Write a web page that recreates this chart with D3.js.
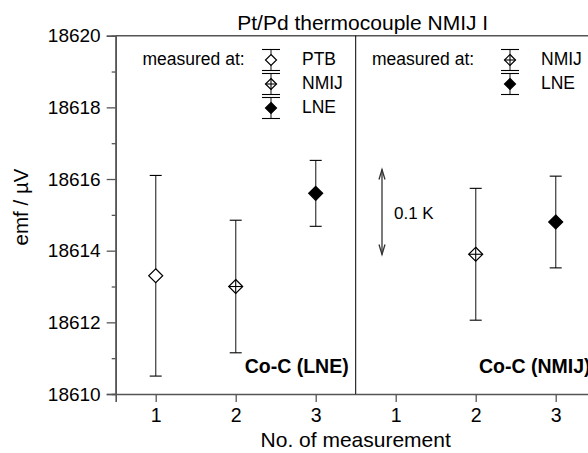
<!DOCTYPE html>
<html>
<head>
<meta charset="utf-8">
<script src="https://cdn.jsdelivr.net/npm/d3@7"></script>
<style>
	body { margin: 0; background: #fff; }
	text { font-family: "Liberation Sans", Arial, Helvetica, sans-serif; fill: #000; }
</style>
</head>
<body>
<div id="chart-area"></div>
<script>
// data - measurement slot on the x axis (second panel uses slots 4..6), emf and its uncertainty
let slots = [1, 2, 3, 5, 6];
let emf = [18613.3, 18613.0, 18615.6, 18613.9, 18614.8];
let uncert = [2.8, 1.85, 0.92, 1.84, 1.28];
let lab = ["PTB", "NMIJ", "LNE", "NMIJ", "LNE"];

let xTicks = [1, 2, 3, 4, 5, 6];
let xTickLabels = ["1", "2", "3", "1", "2", "3"];
let yTicks = [18610, 18612, 18614, 18616, 18618, 18620];
let yMinor = [18611, 18613, 18615, 18617, 18619];

let legend1 = ["PTB", "NMIJ", "LNE"];
let legend2 = ["NMIJ", "LNE"];
let panelNames = ["Co-C (LNE)", "Co-C (NMIJ)"];

// 0.1 K marker, in µV
let arrowMid = 18615.08;
let arrowLen = 2.37;

let margin = {top: 35.7, right: 0, bottom: 59, left: 115.7};
let width = 480;
let height = 394 - margin.top;

let svg = d3.select("#chart-area").append("svg")
		.attr("width", 588)
		.attr("height", 453)
	.append("g")
		.attr("transform", "translate(" + margin.left + "," + margin.top + ")");

let xScale = d3.scaleLinear().domain([0.5, 6.5]).range([0, width]);
let yScale = d3.scaleLinear().domain([18610, 18620]).range([height, 0]);

// axes
let xAxis = d3.axisBottom(xScale).tickValues(xTicks)
	.tickFormat((d, i) => xTickLabels[i]).tickSize(8).tickPadding(6);
let yAxis = d3.axisLeft(yScale).tickValues(yTicks)
	.tickFormat(d3.format("d")).tickSize(9).tickPadding(6);
let yAxisMinor = d3.axisLeft(yScale).tickValues(yMinor)
	.tickFormat("").tickSize(4);

let gx = svg.append("g")
	.attr("transform", "translate(0," + height + ")")
	.call(xAxis);
let gy = svg.append("g").call(yAxis);
let gym = svg.append("g").call(yAxisMinor);

[gx, gy, gym].forEach(g => {
	g.select(".domain").attr("stroke", "#555").attr("stroke-width", 1.6);
	g.selectAll(".tick line").attr("stroke", "#555").attr("stroke-width", 1.3);
	g.selectAll("text").attr("fill", "#000");
});
gx.selectAll("text").style("font-size", "19.5px");
gy.selectAll("text").style("font-size", "19px");

// top frame line
svg.append("line")
	.attr("x1", 0).attr("x2", width)
	.attr("y1", 0).attr("y2", 0)
	.attr("stroke", "#555").attr("stroke-width", 1.6);

// panel divider
svg.append("line")
	.attr("x1", xScale(3.5)).attr("x2", xScale(3.5))
	.attr("y1", 0).attr("y2", height)
	.attr("stroke", "#000").attr("stroke-width", 1);

// axis titles
svg.append("text")
	.attr("x", xScale(3.5) + 7).attr("y", -6)
	.attr("text-anchor", "middle")
	.style("font-size", "21px")
	.text("Pt/Pd thermocouple NMIJ I");

svg.append("text")
	.attr("x", xScale(3.5)).attr("y", 447 - margin.top)
	.attr("text-anchor", "middle")
	.style("font-size", "21px")
	.text("No. of measurement");

svg.append("text")
	.attr("transform", "translate(" + (28 - margin.left) + "," + (207 - margin.top) + ") rotate(-90)")
	.attr("text-anchor", "middle")
	.style("font-size", "20.5px")
	.text("emf / µV");

// marker shapes
function drawMark(g, kind, x, y, r) {
	let pts = [[x, y - r], [x + r, y], [x, y + r], [x - r, y]];
	g.append("path")
		.attr("d", d3.line()(pts) + "Z")
		.attr("fill", kind === "LNE" ? "#000" : "#fff")
		.attr("stroke", "#000").attr("stroke-width", 1.2);
	if (kind === "NMIJ") {
		g.append("line").attr("x1", x - r).attr("x2", x + r).attr("y1", y).attr("y2", y)
			.attr("stroke", "#000").attr("stroke-width", 1.1);
		g.append("line").attr("x1", x).attr("x2", x).attr("y1", y - r).attr("y2", y + r)
			.attr("stroke", "#000").attr("stroke-width", 1.1);
	}
}

function drawBar(g, x, y1, y2, cap) {
	g.append("line").attr("x1", x).attr("x2", x).attr("y1", y1).attr("y2", y2)
		.attr("stroke", "#555").attr("stroke-width", 1.4);
	[y1, y2].forEach(y => {
		g.append("line").attr("x1", x - cap / 2).attr("x2", x + cap / 2)
			.attr("y1", y).attr("y2", y)
			.attr("stroke", "#000").attr("stroke-width", 1.1);
	});
}

// data points
let marks = svg.append("g");
slots.forEach((s, i) => {
	let x = xScale(s);
	drawBar(marks, x, yScale(emf[i] + uncert[i]), yScale(emf[i] - uncert[i]), 12);
	drawMark(marks, lab[i], x, yScale(emf[i]), 7);
});

// legends
function drawLegend(names, textX, symX, labelX, y0) {
	let g = svg.append("g");
	g.append("text")
		.attr("x", textX - margin.left).attr("y", y0 + 5.5 - margin.top)
		.style("font-size", "17.5px")
		.text("measured at:");
	names.forEach((n, i) => {
		let cy = y0 + i * 24 - margin.top;
		drawBar(g, symX - margin.left, cy - 10.5, cy + 10.5, 18);
		drawMark(g, n, symX - margin.left, cy, 5.5);
		g.append("text")
			.attr("x", labelX - margin.left).attr("y", cy + 5.5)
			.style("font-size", "17.5px")
			.text(n);
	});
}
drawLegend(legend1, 142.5, 271, 302, 60);
drawLegend(legend2, 372, 510, 541, 60);

// panel names
svg.append("text")
	.attr("x", xScale(3.5) - 7).attr("y", 373.3 - margin.top)
	.attr("text-anchor", "end")
	.style("font-size", "19.5px").style("font-weight", "bold")
	.text(panelNames[0]);
svg.append("text")
	.attr("x", 479 - margin.left).attr("y", 373.3 - margin.top)
	.style("font-size", "19.5px").style("font-weight", "bold")
	.text(panelNames[1]);

// 0.1 K arrow
let ax = 382 - margin.left;
let aTop = yScale(arrowMid + arrowLen / 2);
let aBot = yScale(arrowMid - arrowLen / 2);
let arrow = svg.append("g").attr("stroke", "#333").attr("fill", "none").attr("stroke-width", 1.3);
arrow.append("line").attr("x1", ax).attr("x2", ax).attr("y1", aTop).attr("y2", aBot);
arrow.append("path").attr("d", d3.line()([[ax - 3, aTop + 10], [ax, aTop], [ax + 3, aTop + 10]]));
arrow.append("path").attr("d", d3.line()([[ax - 3, aBot - 10], [ax, aBot], [ax + 3, aBot - 10]]));
svg.append("text")
	.attr("x", 394 - margin.left).attr("y", 219.3 - margin.top)
	.style("font-size", "17px")
	.text("0.1 K");
</script>
</body>
</html>
